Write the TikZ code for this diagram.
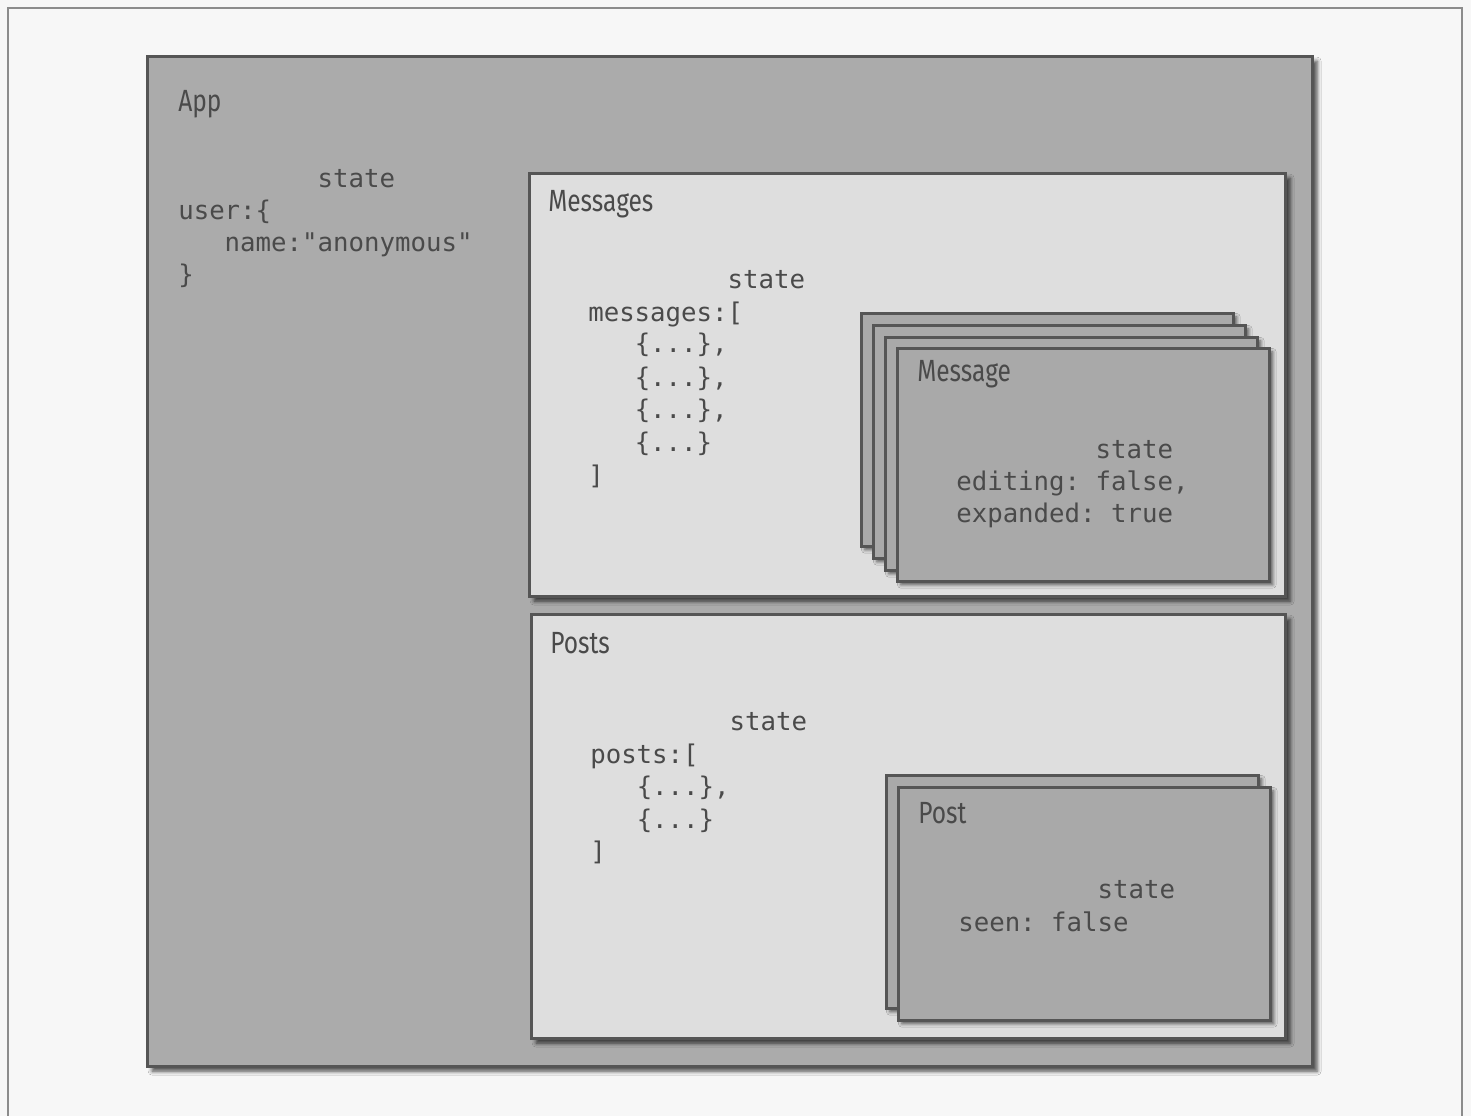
\documentclass[tikz,border=0pt]{standalone}
\usepackage{fontspec}
\setmainfont{Fira Sans}
\newfontfamily\titlefont[FakeStretch=0.8]{Fira Sans}
\newfontfamily\codefont{DejaVu Sans Mono}
\usetikzlibrary{shadows,shadows.blur}
\definecolor{pagebg}{HTML}{F7F7F7}
\definecolor{framec}{HTML}{8C8C8C}
\definecolor{bordc}{HTML}{555555}
\definecolor{appfill}{HTML}{ABABAB}
\definecolor{panelfill}{HTML}{DEDEDE}
\definecolor{cardfill}{HTML}{A9A9A9}
\definecolor{textc}{HTML}{4A4A4A}
\newcommand{\ind}[1]{\phantom{#1}}
\begin{document}
\begin{tikzpicture}[x=0.75pt,y=-0.75pt,
  box/.style={draw=bordc, line width=2.2pt, anchor=north west, inner sep=0pt,
    blur shadow={shadow xshift=3.5pt, shadow yshift=-3.5pt, shadow blur radius=3pt, shadow opacity=70}},
  appbox/.style={box, fill=appfill},
  panel/.style={box, fill=panelfill},
  card/.style={draw=bordc, line width=2.2pt, anchor=north west, inner sep=0pt, fill=cardfill,
    minimum width=372*0.75pt, minimum height=233*0.75pt,
    blur shadow={shadow xshift=2.5pt, shadow yshift=-2.5pt, shadow blur radius=2.5pt, shadow opacity=60}},
  ttl/.style={anchor=base west, inner sep=0pt, text=textc, font=\titlefont\fontsize{23}{27}\selectfont},
  code/.style={anchor=base west, inner sep=0pt, text=textc, font=\codefont\fontsize{19.3}{24}\selectfont\frenchspacing}
]
\useasboundingbox (0,0) rectangle (1471,1116);
\fill[pagebg] (0,0) rectangle (1471,1116);
\coordinate (fbl) at (8,1118);
\coordinate (ftl) at (8,8);
\coordinate (ftr) at (1462,8);
\coordinate (fbr) at (1462,1118);
\draw[framec, line width=1pt] (fbl) -- (ftl) -- (ftr) -- (fbr);

% App
\node[appbox, minimum width=1165*0.75pt, minimum height=1010*0.75pt] (app) at (146,55) {};
\node[ttl] (apptitle) at (178,112) {App};
\node[code] (app1) at (178,188) {\ind{123456789}state};
\node[code] (app2) at (178,220) {user:\{};
\node[code] (app3) at (178,252) {\ind{123}name:"anonymous"};
\node[code] (app4) at (178,284) {\}};

% Messages
\node[panel, minimum width=756*0.75pt, minimum height=423*0.75pt] (messages) at (528,172) {};
\node[ttl] (msgtitle) at (548,212) {Messages};
\node[code] (m1) at (588,289) {\ind{123456789}state};
\node[code] (m2) at (588,321) {messages:[};
\node[code] (m3) at (588,353) {\ind{123}\{...\},};
\node[code] (m4) at (588,386) {\ind{123}\{...\},};
\node[code] (m5) at (588,418) {\ind{123}\{...\},};
\node[code] (m6) at (588,451) {\ind{123}\{...\}};
\node[code] (m7) at (588,484) {]};

\node[card] (mc1) at (860,312) {};
\node[card] (mc2) at (872,324) {};
\node[card] (mc3) at (884,336) {};
\node[card] (mc4) at (896,347) {};
\node[ttl] (mtitle) at (917,381) {Message};
\node[code] (mm1) at (956,458) {\ind{123456789}state};
\node[code] (mm2) at (956,490) {editing: false,};
\node[code] (mm3) at (956,522) {expanded: true};

% Posts
\node[panel, minimum width=754*0.75pt, minimum height=424*0.75pt] (posts) at (530,613) {};
\node[ttl] (poststitle) at (550,653) {Posts};
\node[code] (p1) at (590,730) {\ind{123456789}state};
\node[code] (p2) at (590,763) {posts:[};
\node[code] (p3) at (590,795) {\ind{123}\{...\},};
\node[code] (p4) at (590,828) {\ind{123}\{...\}};
\node[code] (p5) at (590,860) {]};

\node[card] (pc1) at (885,774) {};
\node[card] (pc2) at (897,786) {};
\node[ttl] (ptitle) at (918,823) {Post};
\node[code] (pp1) at (958,898) {\ind{123456789}state};
\node[code] (pp2) at (958,931) {seen: false};
\end{tikzpicture}
\end{document}
